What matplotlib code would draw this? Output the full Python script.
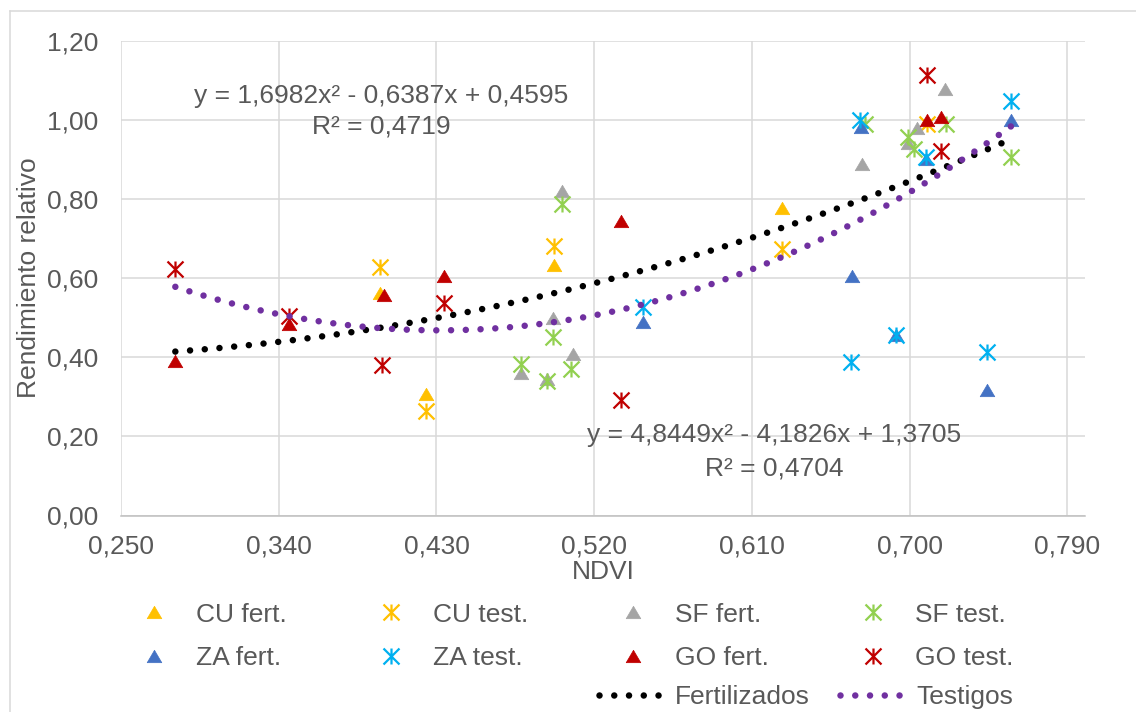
#!/usr/bin/env python3

import matplotlib
matplotlib.use("Agg")
import matplotlib.pyplot as plt
import numpy as np
from matplotlib.lines import Line2D
from matplotlib.path import Path
from matplotlib.ticker import FuncFormatter

# NDVI vs relative yield, per site: fertilized plots (fert.) and controls (test.)
cu_fert_x = [0.398, 0.424, 0.497, 0.627]
cu_fert_y = [0.563, 0.306, 0.632, 0.778]
cu_test_x = [0.398, 0.424, 0.497, 0.627, 0.710]
cu_test_y = [0.629, 0.265, 0.680, 0.674, 0.990]

sf_fert_x = [0.478, 0.493, 0.4965, 0.5015, 0.508, 0.673, 0.699, 0.704, 0.720]
sf_fert_y = [0.361, 0.346, 0.500, 0.821, 0.409, 0.889, 0.941, 0.978, 1.077]
sf_test_x = [0.478, 0.493, 0.4965, 0.5015, 0.507, 0.6745, 0.699, 0.7025, 0.7207, 0.758]
sf_test_y = [0.384, 0.339, 0.450, 0.788, 0.369, 0.990, 0.955, 0.927, 0.990, 0.905]

za_fert_x = [0.548, 0.667, 0.672, 0.692, 0.709, 0.744, 0.758]
za_fert_y = [0.488, 0.606, 0.982, 0.455, 0.900, 0.316, 0.998]
za_test_x = [0.548, 0.6665, 0.6715, 0.692, 0.709, 0.744, 0.7575]
za_test_y = [0.526, 0.387, 0.998, 0.455, 0.905, 0.412, 1.048]

go_fert_x = [0.281, 0.346, 0.400, 0.434, 0.535, 0.710, 0.718]
go_fert_y = [0.390, 0.485, 0.558, 0.606, 0.745, 0.998, 1.006]
go_test_x = [0.281, 0.346, 0.399, 0.434, 0.535, 0.710, 0.718]
go_test_y = [0.624, 0.503, 0.381, 0.536, 0.293, 1.113, 0.920]

# quadratic trendlines
fert_coef = [1.6982, -0.6387, 0.4595]
fert_r2 = 0.4719
test_coef = [4.8449, -4.1826, 1.3705]
test_r2 = 0.4704

x_ticks = [0.250, 0.340, 0.430, 0.520, 0.610, 0.700, 0.790]
y_ticks = [0.0, 0.2, 0.4, 0.6, 0.8, 1.0, 1.2]

TEXT = "#595959"
GRID = "#D9D9D9"
FS = 19

TRIANGLE = Path([(0, 0.85), (-1, -0.85), (1, -0.85), (0, 0.85)],
                [Path.MOVETO, Path.LINETO, Path.LINETO, Path.CLOSEPOLY])
STAR = Path([(-1, -1), (1, 1), (-1, 1), (1, -1), (0, -1), (0, 1)],
            [Path.MOVETO, Path.LINETO] * 3)


def dec(v, digits):
    return f"{v:.{digits}f}".replace(".", ",")


def equation(coef):
    a, b, c = coef
    sb = "-" if b < 0 else "+"
    sc = "-" if c < 0 else "+"
    return f"y = {dec(a, 4)}x² {sb} {dec(abs(b), 4)}x {sc} {dec(abs(c), 4)}"


def fert(ax, x, y, color):
    return ax.plot(x, y, linestyle="none", marker=TRIANGLE, markersize=10.5,
                   markerfacecolor=color, markeredgecolor=color,
                   markeredgewidth=0.5, zorder=3)[0]


def test(ax, x, y, color):
    return ax.plot(x, y, linestyle="none", marker=STAR, markersize=11.5,
                   markerfacecolor="none", markeredgecolor=color,
                   markeredgewidth=1.6, zorder=3)[0]


def trend(ax, coef, xs_all, color):
    xs = np.linspace(min(xs_all), max(xs_all), 400)
    return ax.plot(xs, np.polyval(coef, xs), color=color, linewidth=4.7,
                   linestyle=(0, (0.001, 2.26)), dash_capstyle="round",
                   zorder=5)[0]


plt.rcParams["font.family"] = ["Liberation Sans", "DejaVu Sans"]

fig = plt.figure(figsize=(11.36, 7.12), dpi=100)
ax = fig.add_axes([121 / 1136, 1 - 515.5 / 712, 964 / 1136, 475 / 712])

h_cu_f = fert(ax, cu_fert_x, cu_fert_y, "#FFC000")
h_cu_t = test(ax, cu_test_x, cu_test_y, "#FFC000")
h_sf_f = fert(ax, sf_fert_x, sf_fert_y, "#A5A5A5")
h_sf_t = test(ax, sf_test_x, sf_test_y, "#92D050")
h_za_f = fert(ax, za_fert_x, za_fert_y, "#4472C4")
h_za_t = test(ax, za_test_x, za_test_y, "#00B0F0")
h_go_f = fert(ax, go_fert_x, go_fert_y, "#C00000")
h_go_t = test(ax, go_test_x, go_test_y, "#C00000")

fert_all = cu_fert_x + sf_fert_x + za_fert_x + go_fert_x
test_all = cu_test_x + sf_test_x + za_test_x + go_test_x
h_fert = trend(ax, fert_coef, fert_all, "black")
h_test = trend(ax, test_coef, test_all, "#7030A0")

# trendline equations
ax.text(0.3983, 1.042, equation(fert_coef), ha="center", va="baseline",
        fontsize=FS, color=TEXT, zorder=6)
ax.text(0.3983, 0.966, f"R² = {dec(fert_r2, 4)}", ha="center",
        va="baseline", fontsize=FS, color=TEXT, zorder=6)
ax.text(0.6225, 0.1865, equation(test_coef), ha="center", va="baseline",
        fontsize=FS, color=TEXT, zorder=6)
ax.text(0.6225, 0.1023, f"R² = {dec(test_r2, 4)}", ha="center",
        va="baseline", fontsize=FS, color=TEXT, zorder=6)

ax.set_xlim(0.25, 0.80)
ax.set_ylim(0, 1.2)
ax.set_xticks(x_ticks)
ax.set_yticks(y_ticks)
ax.xaxis.set_major_formatter(FuncFormatter(lambda v, p: dec(v, 3)))
ax.yaxis.set_major_formatter(FuncFormatter(lambda v, p: dec(v, 2)))
ax.tick_params(axis="x", length=0, pad=14, labelsize=FS, labelcolor=TEXT)
ax.tick_params(axis="y", length=0, pad=16.5, labelsize=FS, labelcolor=TEXT)
ax.grid(color=GRID, linewidth=1.1)
ax.set_axisbelow(True)
for side in ["top", "right", "left"]:
    ax.spines[side].set_visible(False)
ax.spines["bottom"].set_color("#BFBFBF")
ax.spines["bottom"].set_linewidth(1.1)

ax.set_xlabel("NDVI", fontsize=FS, color=TEXT, labelpad=1)
ax.set_ylabel("Rendimiento relativo", fontsize=FS, color=TEXT, labelpad=4)

# series legend, filled column by column
fig.legend([h_cu_f, h_za_f, h_cu_t, h_za_t, h_sf_f, h_go_f, h_sf_t, h_go_t],
           ["CU fert.", "ZA fert.", "CU test.", "ZA test.",
            "SF fert.", "GO fert.", "SF test.", "GO test."],
           ncol=4, loc="center", bbox_to_anchor=(577 / 1136, 1 - 636.5 / 712),
           frameon=False, fontsize=FS, labelcolor=TEXT, handlelength=1.0,
           handletextpad=1.09, columnspacing=3.45, labelspacing=0.75,
           borderpad=0, borderaxespad=0)

fig.legend([h_fert, h_test], ["Fertilizados", "Testigos"],
           ncol=2, loc="center", bbox_to_anchor=(806 / 1136, 1 - 697 / 712),
           frameon=False, fontsize=FS, labelcolor=TEXT, handlelength=2.54,
           handletextpad=0.34, columnspacing=1.14, borderpad=0,
           borderaxespad=0)

# chart frame
fig.add_artist(Line2D([10 / 1136, 1], [1 - 11 / 712] * 2,
                      transform=fig.transFigure, color=GRID, linewidth=1.1))
fig.add_artist(Line2D([10 / 1136] * 2, [0, 1 - 11 / 712],
                      transform=fig.transFigure, color=GRID, linewidth=1.1))

fig.savefig("out.png", dpi=100, facecolor="white")
